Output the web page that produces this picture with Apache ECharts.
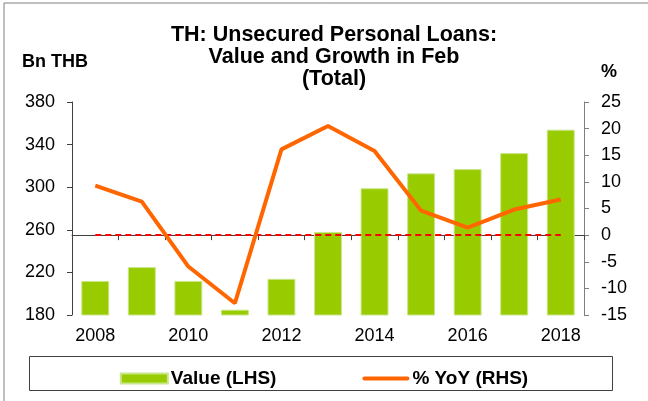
<!DOCTYPE html>
<html><head><meta charset="utf-8">
<script src="https://cdn.jsdelivr.net/npm/echarts@6/dist/echarts.min.js"></script>
<style>html,body{margin:0;padding:0;background:#fff}#c{width:648px;height:401px}</style>
</head><body><div id="c"></div>
<script>
const years = ['2008','2009','2010','2011','2012','2013','2014','2015','2016','2017','2018'];
const valueLHS = [212, 225, 212, 185, 214, 258, 299, 313, 317, 332, 354];
const yoyRHS = [9.3, 6.3, -5.9, -12.8, 16.1, 20.5, 15.8, 4.6, 1.4, 4.8, 6.7];
const leftTicks = {min: 180, max: 380, interval: 40};
const rightTicks = {min: -15, max: 25, interval: 5};

const font = 'Liberation Sans, Arial, sans-serif';
const chart = echarts.init(document.getElementById('c'), null, {renderer: 'canvas'});
chart.setOption({
  animation: false,
  backgroundColor: '#fff',
  title: {
    text: 'TH: Unsecured Personal Loans:\nValue and Growth in Feb\n(Total)',
    left: 329, top: 19, textAlign: 'center',
    textStyle: {fontFamily: font, fontSize: 21.5, fontWeight: 'bold', color: '#000', lineHeight: 22}
  },
  graphic: [
    {type: 'rect', shape: {x: 4, y: 3, width: 700, height: 500}, style: {fill: null, stroke: '#808080', lineWidth: 1}, silent: true, z: -1},
    {type: 'rect', shape: {x: 29.5, y: 356.5, width: 583, height: 34}, style: {fill: null, stroke: '#404040', lineWidth: 1}, silent: true},
    {type: 'text', left: 22, top: 53, style: {text: 'Bn THB', font: 'bold 18px ' + font, fill: '#000'}},
    {type: 'text', left: 601, top: 63, style: {text: '%', font: 'bold 18px ' + font, fill: '#000'}}
  ],
  legend: {
    top: 364, left: 'center', itemGap: 86,
    itemWidth: 47, itemHeight: 10,
    textStyle: {fontFamily: font, fontSize: 19, fontWeight: 'bold', color: '#000', padding: [0, 0, 0, -2]},
    data: [
      {name: 'Value (LHS)', icon: 'rect'},
      {name: '% YoY (RHS)', icon: 'path://M2,0 L45,0 A2,2 0 0 1 45,4 L2,4 A2,2 0 0 1 2,0 Z'}
    ]
  },
  grid: {left: 72, right: 64, top: 102, bottom: 86},
  xAxis: {
    type: 'category', data: years,
    axisLine: {lineStyle: {color: '#404040', width: 1}},
    axisTick: {show: true, interval: 0, length: 5, lineStyle: {color: '#404040'}},
    axisLabel: {interval: 1, margin: 12, fontFamily: font, fontSize: 18, color: '#000'}
  },
  yAxis: [
    {type: 'value', min: leftTicks.min, max: leftTicks.max, interval: leftTicks.interval,
     axisLine: {show: true, lineStyle: {color: '#404040'}},
     axisTick: {show: true, length: 5, lineStyle: {color: '#404040'}},
     axisLabel: {margin: 17, fontFamily: font, fontSize: 18, color: '#000'},
     splitLine: {show: false}},
    {type: 'value', min: rightTicks.min, max: rightTicks.max, interval: rightTicks.interval, position: 'right',
     axisLine: {show: true, lineStyle: {color: '#808080'}},
     axisTick: {show: true, length: 5, lineStyle: {color: '#808080'}},
     axisLabel: {margin: 17, fontFamily: font, fontSize: 18, color: '#000'},
     splitLine: {show: false}}
  ],
  series: [
    {name: 'Value (LHS)', type: 'bar', data: valueLHS, yAxisIndex: 0, barWidth: '60%',
     itemStyle: {color: '#99CC00', borderColor: '#C8E68A', borderWidth: 1}},
    {name: '% YoY (RHS)', type: 'line', data: yoyRHS, yAxisIndex: 1, symbol: 'none',
     lineStyle: {color: '#FF6600', width: 4}, itemStyle: {color: '#FF6600'}, z: 5,
     markLine: {silent: true, symbol: 'none', label: {show: false},
       lineStyle: {color: '#FF0000', type: [6, 4], width: 2},
       data: [[{coord: ['2008', 0]}, {coord: ['2018', 0]}]]}}
  ]
});
</script></body></html>
